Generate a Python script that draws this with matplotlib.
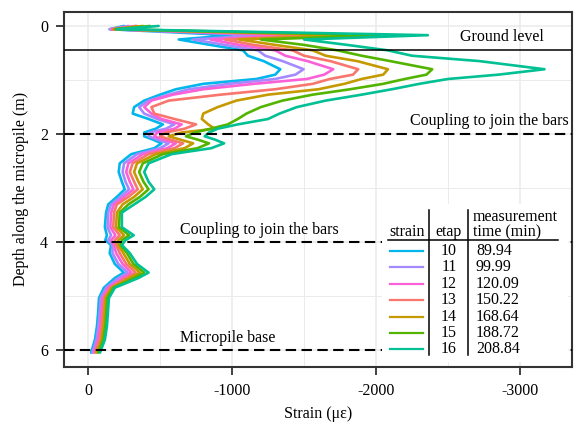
import matplotlib
matplotlib.use('Agg')
import matplotlib.pyplot as plt
from matplotlib.lines import Line2D
from matplotlib.patches import Rectangle

plt.rcParams['font.family'] = ['Liberation Serif', 'DejaVu Serif']

# ---------------- data ----------------
depth = [0.00, 0.06, 0.17, 0.25, 0.35, 0.45, 0.55, 0.65, 0.80, 0.90, 0.98, 1.07, 1.17, 1.27, 1.38,
         1.50, 1.62, 1.72, 1.82, 1.90, 1.97, 2.04, 2.10, 2.17, 2.26, 2.37, 2.54, 2.70, 2.88, 3.02,
         3.16, 3.30, 3.45, 3.72, 3.87, 3.96, 4.05, 4.20, 4.40, 4.56, 4.66, 4.84, 5.03, 5.30, 5.55,
         5.80, 6.04]

strain_10 = [-250, -150, -1000, -630, -850, -1076, -1110, -1220, -1335, -1300, -1170, -800, -610, -500, -390,
             -320, -310, -420, -520, -470, -390, -390, -450, -510, -460, -300, -220, -213, -235, -255,
             -200, -140, -125, -117, -131, -120, -160, -150, -186, -248, -186, -110, -76, -70, -62,
             -48, -21]
strain_11 = [-280, -150, -1200, -730, -950, -1180, -1230, -1352, -1497, -1440, -1300, -980, -700, -560, -420,
             -355, -390, -480, -600, -540, -430, -420, -480, -560, -500, -340, -250, -240, -260, -285,
             -225, -160, -140, -135, -160, -140, -170, -170, -210, -275, -210, -125, -88, -80, -72,
             -58, -30]
strain_12 = [-330, -160, -1420, -850, -1050, -1300, -1370, -1524, -1703, -1640, -1520, -1150, -800, -590, -440,
             -390, -440, -510, -650, -600, -480, -460, -520, -610, -550, -380, -280, -265, -290, -315,
             -250, -180, -160, -155, -190, -160, -180, -195, -240, -300, -240, -140, -100, -92, -84,
             -70, -40]
strain_13 = [-340, -170, -1600, -950, -1150, -1420, -1500, -1683, -1876, -1840, -1680, -1560, -1300, -920, -560,
             -440, -460, -600, -750, -670, -540, -500, -570, -660, -600, -420, -310, -290, -320, -345,
             -280, -200, -180, -175, -220, -185, -195, -220, -265, -330, -265, -155, -112, -104, -96,
             -82, -50]
strain_14 = [-380, -180, -1800, -1050, -1300, -1560, -1650, -1870, -2083, -2050, -1900, -1780, -1600, -1250, -1030,
             -900, -800, -790, -835, -880, -650, -560, -640, -730, -670, -470, -340, -320, -350, -380,
             -320, -240, -200, -195, -250, -210, -210, -245, -290, -360, -290, -165, -122, -116, -108,
             -94, -60]
strain_15 = [-430, -190, -2050, -1200, -1500, -1730, -1900, -2100, -2390, -2350, -2200, -2050, -1820, -1560, -1350,
             -1200, -1100, -1040, -970, -850, -740, -680, -760, -840, -760, -520, -380, -355, -385, -420,
             -360, -280, -220, -215, -285, -235, -225, -270, -315, -390, -320, -175, -134, -127, -120,
             -106, -72]
strain_16 = [-490, -200, -2360, -1500, -1800, -2080, -2250, -2720, -3170, -2850, -2500, -2300, -2110, -1900, -1650,
             -1450, -1330, -1250, -1040, -900, -840, -810, -880, -945, -855, -580, -420, -390, -420, -460,
             -400, -320, -235, -235, -317, -260, -235, -290, -340, -420, -350, -186, -145, -138, -131,
             -117, -83]

series = [strain_10, strain_11, strain_12, strain_13, strain_14, strain_15, strain_16]
etaps = ['10', '11', '12', '13', '14', '15', '16']
times = ['89.94', '99.99', '120.09', '150.22', '168.64', '188.72', '208.84']
colors = ['#00B6EB', '#A58AFF', '#FB61D7', '#F8766D', '#C49A00', '#53B400', '#00C094']

x_ticks = [0, -1000, -2000, -3000]
x_ticklabels = ['0', '-1000', '-2000', '-3000']
y_ticks = [0, 2, 4, 6]
y_ticklabels = ['0', '2', '4', '6']

ground_level = 0.44
coupling_depths = [2, 4]
base_depth = 6

# ---------------- figure ----------------
W, H = 582, 426
fig = plt.figure(figsize=(W / 100, H / 100), dpi=100)
ax = fig.add_axes([64 / W, 1 - 366.7 / H, (572 - 64) / W, (366.7 - 11.7) / H])

FS = 11.5
for s, c in zip(series, colors):
    ax.plot(s, depth, color=c, lw=1.9, solid_capstyle='round', solid_joinstyle='round', zorder=3)

ax.axhline(ground_level, color='black', lw=1.1, zorder=4)
for d in coupling_depths + [base_depth]:
    ax.axhline(d, color='black', lw=1.5, ls=(0, (5, 2.6)), zorder=4)

ax.text(-2580, 0.21, 'Ground level', ha='left', va='center', fontsize=FS, zorder=4)
ax.text(-2235, 1.76, 'Coupling to join the bars', ha='left', va='center', fontsize=FS, zorder=4)
ax.text(-640, 3.77, 'Coupling to join the bars', ha='left', va='center', fontsize=FS, zorder=4)
ax.text(-640, 5.77, 'Micropile base', ha='left', va='center', fontsize=FS, zorder=4)

ax.set_xlim(167, -3361)
ax.set_ylim(6.3, -0.264)
ax.set_xticks(x_ticks)
ax.set_xticklabels(x_ticklabels)
ax.set_yticks(y_ticks)
ax.set_yticklabels(y_ticklabels)
ax.set_xticks([-500, -1500, -2500], minor=True)
ax.set_yticks([1, 3, 5], minor=True)
ax.grid(which='major', color='#EBEBEB', lw=1.1)
ax.grid(which='minor', color='#EBEBEB', lw=0.7)
ax.set_axisbelow(True)
ax.tick_params(which='major', length=5.5, width=1.3, color='#333333', labelsize=FS,
               labelcolor='black', pad=6)
ax.tick_params(which='minor', length=0)
for sp in ax.spines.values():
    sp.set_color('#333333')
    sp.set_linewidth(1.5)
ax.set_xlabel('Strain (\u03bc\u03b5)', fontsize=FS, labelpad=5)
ax.set_ylabel('Depth along the micropile (m)', fontsize=FS, labelpad=8)

# ---------------- table legend ----------------
def P(x, y):
    return (x / W, 1 - y / H)

box_x0, box_y0 = P(382, 362)
fig.add_artist(Rectangle((box_x0, box_y0), (568 - 382) / W, (362 - 204) / H,
                         transform=fig.transFigure, facecolor='white', edgecolor='none', zorder=5))

def fline(xs, ys, **kw):
    pts = [P(x, y) for x, y in zip(xs, ys)]
    fig.add_artist(Line2D([p[0] for p in pts], [p[1] for p in pts], transform=fig.transFigure,
                          zorder=6, **kw))

fline([429, 429], [210, 355], color='black', lw=1.1)
fline([468, 468], [210, 355], color='black', lw=1.1)
fline([388, 558], [240, 240], color='black', lw=1.1)

def ftext(x, y, s, ha):
    px, py = P(x, y)
    fig.text(px, py, s, ha=ha, va='center', fontsize=FS, zorder=6)

ftext(407, 232, 'strain', 'center')
ftext(449, 232, 'etap', 'center')
ftext(473, 217, 'measurement', 'left')
ftext(473, 232, 'time (min)', 'left')

for i, (e, t, c) in enumerate(zip(etaps, times, colors)):
    y = 251 + i * 16.4
    fline([390, 423], [y, y], color=c, lw=1.6)
    ftext(449, y, e, 'center')
    ftext(476, y, t, 'left')

fig.savefig('out.png', dpi=100)
